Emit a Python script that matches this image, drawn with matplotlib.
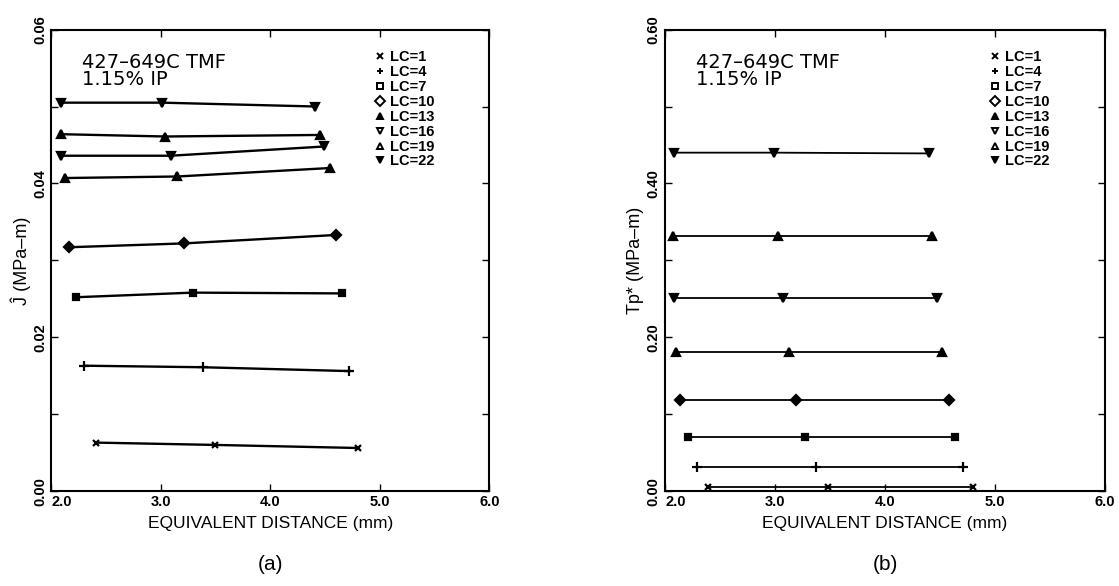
import matplotlib as mpl
import matplotlib.pyplot as plt
from matplotlib.lines import Line2D
from matplotlib.ticker import MultipleLocator

mpl.rcParams["font.family"] = ["Liberation Sans", "DejaVu Sans"]

# data
lc_labels = ["LC=1", "LC=4", "LC=7", "LC=10", "LC=13", "LC=16", "LC=19", "LC=22"]

j_dist = [
    [2.41, 3.49, 4.80],
    [2.30, 3.38, 4.72],
    [2.22, 3.29, 4.65],
    [2.16, 3.21, 4.60],
    [2.12, 3.15, 4.54],
    [2.09, 3.09, 4.49],
    [2.09, 3.04, 4.45],
    [2.09, 3.01, 4.41],
]
j_vals = [
    [0.0063, 0.0060, 0.0056],
    [0.0163, 0.0161, 0.0156],
    [0.0252, 0.0258, 0.0257],
    [0.0317, 0.0322, 0.0333],
    [0.0407, 0.0409, 0.0420],
    [0.0436, 0.0436, 0.0448],
    [0.0464, 0.0461, 0.0463],
    [0.0505, 0.0505, 0.0500],
]

tp_dist = [
    [2.39, 3.48, 4.80],
    [2.29, 3.37, 4.71],
    [2.21, 3.27, 4.64],
    [2.14, 3.19, 4.58],
    [2.10, 3.13, 4.52],
    [2.08, 3.07, 4.47],
    [2.07, 3.03, 4.43],
    [2.08, 2.99, 4.40],
]
tp_vals = [
    [0.0048, 0.0048, 0.0048],
    [0.0316, 0.0316, 0.0316],
    [0.0706, 0.0706, 0.0706],
    [0.1183, 0.1183, 0.1183],
    [0.1811, 0.1811, 0.1811],
    [0.2505, 0.2505, 0.2505],
    [0.3315, 0.3315, 0.3315],
    [0.4400, 0.4400, 0.4390],
]

x_ticks = [2.0, 3.0, 4.0, 5.0, 6.0]
x_tick_labels = ["2.0", "3.0", "4.0", "5.0", "6.0"]

markers = ["x", "+", "s", "D", "^", "v", "^", "v"]
legend_open = [False, False, True, True, False, True, True, False]
MARKER_SIZES = [5, 7, 5, 5, 6, 6, 6, 6]

fig = plt.figure(figsize=(11.19, 5.86), dpi=100)
ax_a = fig.add_axes([0.046, 0.162, 0.3914, 0.7875])
ax_b = fig.add_axes([0.5943, 0.162, 0.3932, 0.7875])

panels = [
    (ax_a, j_dist, j_vals, 0.06, 0.02, ["0.00", "0.02", "0.04", "0.06"],
     "\u0134 (MPa\u2013m)", "(a)", 1.7),
    (ax_b, tp_dist, tp_vals, 0.60, 0.20, ["0.00", "0.20", "0.40", "0.60"],
     "Tp* (MPa\u2013m)", "(b)", 1.3),
]

for ax, xs, ys, ymax, ystep, ylabels, ylab, cap, lw in panels:
    for x, y, m, ms in zip(xs, ys, markers, MARKER_SIZES):
        ax.plot(x, y, "-", color="black", linewidth=lw, marker=m,
                markersize=ms, markeredgewidth=1.6)

    ax.set_xlim(2.0, 6.0)
    ax.set_ylim(0, ymax)
    ax.set_xticks(x_ticks)
    ax.set_xticklabels(x_tick_labels, fontsize=10.5, fontweight="bold")
    ax.get_xticklabels()[0].set_ha("left")
    ax.set_yticks([i * ystep for i in range(4)])
    ax.set_yticklabels(ylabels, fontsize=10.5, fontweight="bold",
                       rotation=90, va="center")
    ax.yaxis.set_minor_locator(MultipleLocator(ystep / 2))
    ax.tick_params(axis="both", which="both", direction="in",
                   top=True, right=True, length=5, width=1, pad=3)
    ax.tick_params(axis="x", which="minor", bottom=False, top=False)
    for s in ax.spines.values():
        s.set_linewidth(1.5)

    ax.set_xlabel("EQUIVALENT DISTANCE (mm)", fontsize=12.5, labelpad=5)
    ax.set_ylabel(ylab, fontsize=13, labelpad=2)
    ax.text(0.07, 0.95, "427\u2013649C TMF\n1.15% IP", transform=ax.transAxes,
            fontsize=14, family="DejaVu Sans", va="top", ha="left",
            linespacing=0.92)
    bb = ax.get_position()
    fig.text(bb.x0 + bb.width / 2, 0.036, cap, fontsize=15,
             ha="center", va="center")

    handles = [
        Line2D([], [], linestyle="none", marker=m, color="black",
               markersize=5, markeredgewidth=1.4,
               markerfacecolor="white" if op else "black")
        for m, op in zip(markers, legend_open)
    ]
    ax.legend(handles, lc_labels, loc="upper left", bbox_to_anchor=(0.74, 0.955),
              frameon=False, borderpad=0, borderaxespad=0, handlelength=0.6,
              handletextpad=0.4, labelspacing=0.06,
              prop={"size": 10.5, "weight": "bold"})

fig.savefig("out.png", dpi=100)
